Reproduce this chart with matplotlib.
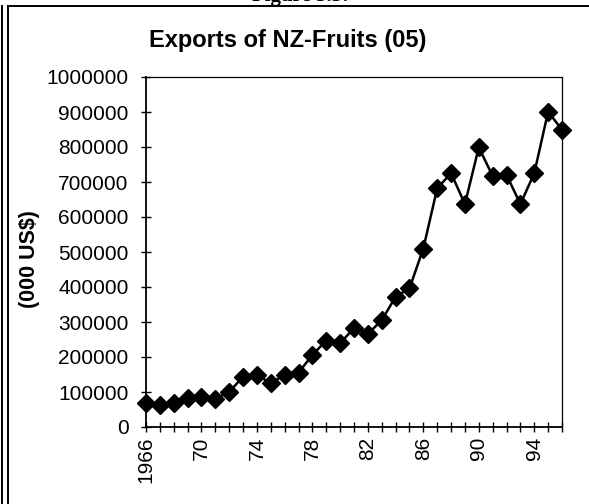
#!/usr/bin/env python3
# -*- coding: utf-8 -*-
# Exports of NZ-Fruits (05), line chart with diamond markers
import matplotlib

matplotlib.use("Agg")
import matplotlib.pyplot as plt
from matplotlib.lines import Line2D

plt.rcParams["font.family"] = ["Liberation Sans", "DejaVu Sans"]

# ----------------------------------------
# Data
years = list(range(1966, 1997))
exports = [
    69000, 63000, 69000, 83000, 87000, 81000, 100000, 144000, 149000, 125000,
    149000, 155000, 206000, 247000, 239000, 283000, 266000, 305000, 372000, 396000,
    510000, 682000, 725000, 637000, 799000, 717000, 720000, 637000, 725000, 901000,
    849000,
]
label_years = [1966, 1970, 1974, 1978, 1982, 1986, 1990, 1994]
label_texts = ["1966", "70", "74", "78", "82", "86", "90", "94"]
yticks = list(range(0, 1000001, 100000))
# ----------------------------------------

fig = plt.figure(figsize=(5.89, 5.04), dpi=100)
ax = fig.add_axes([146 / 589, 77 / 504, 416 / 589, 350 / 504])

ax.plot(
    years, exports, color="black", lw=1.8,
    marker="D", markersize=9.5, markerfacecolor="black", markeredgecolor="black",
    clip_on=False, zorder=5,
)

ax.set_xlim(years[0], years[-1])
ax.set_ylim(0, 1000000)

ax.set_xticks(years)
ax.set_xticklabels(["" for _ in years])
for yr, txt in zip(label_years, label_texts):
    ax.text(yr, -0.028, txt, transform=ax.get_xaxis_transform(),
            rotation=90, ha="center", va="top", fontsize=15)
ax.tick_params(axis="x", direction="inout", length=7, width=1, color="black")

ax.set_yticks(yticks)
ax.set_yticklabels([str(v) for v in yticks], fontsize=15)
ax.tick_params(axis="y", direction="inout", length=7, width=1, pad=9)

for side in ["left", "bottom"]:
    ax.spines[side].set_linewidth(1.3)
for side in ["top", "right"]:
    ax.spines[side].set_linewidth(0.9)

ax.set_ylabel("(000 US$)", fontsize=15.5, fontweight="bold")
ax.yaxis.set_label_coords(-0.255, 0.48)
fig.text(288 / 589, 1 - 41 / 504, "Exports of NZ-Fruits (05)",
         ha="center", va="center", fontsize=17, fontweight="bold")

# caption cut off by the scan at the top edge
fig.text(300 / 589, 1 + 4 / 504, "Figure 3.5:", ha="center", va="center",
         fontsize=15, fontweight="bold", family=["Liberation Serif", "DejaVu Serif"])

# frame around the chart
frame = [
    Line2D([8 / 589, 1.0], [1 - 6 / 504, 1 - 6 / 504]),
    Line2D([8 / 589, 8 / 589], [0.0, 1 - 6 / 504]),
    Line2D([2 / 589, 2 / 589], [0.0, 1 - 6 / 504]),
]
for ln in frame:
    ln.set_color("black")
    ln.set_linewidth(1.4)
    ln.set_transform(fig.transFigure)
    fig.add_artist(ln)

fig.savefig("out.png", dpi=100)
